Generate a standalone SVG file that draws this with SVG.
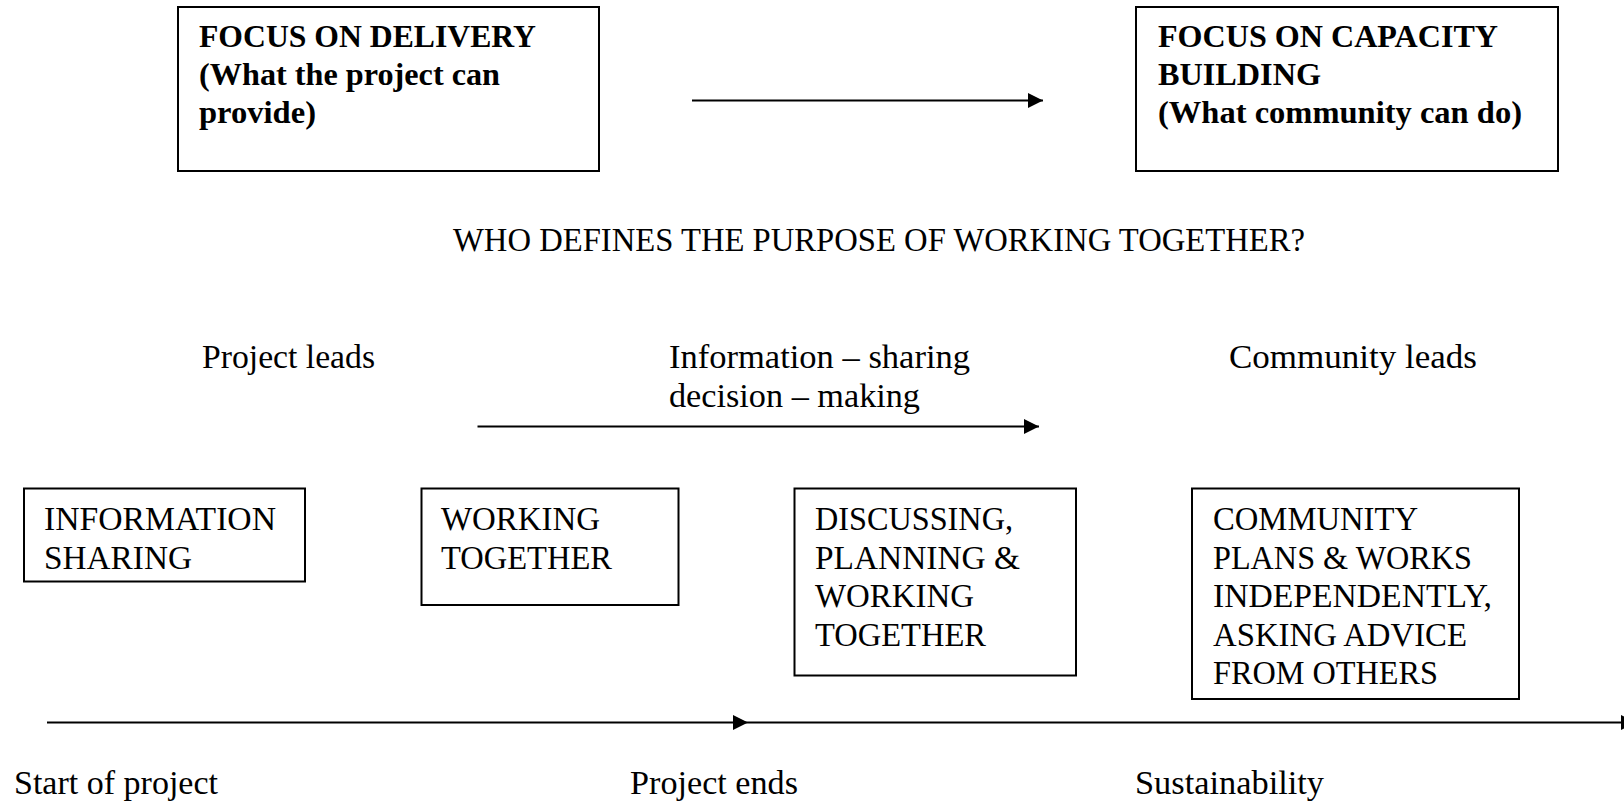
<svg xmlns="http://www.w3.org/2000/svg" width="1624" height="802" viewBox="0 0 1624 802">
<style>
  .box { fill: #fff; stroke: #000; stroke-width: 2; }
  .b { font-family: "Liberation Serif", "Times New Roman", serif; font-weight: bold; font-size: 32px; fill: #000; }
  .r { font-family: "Liberation Serif", "Times New Roman", serif; font-size: 33px; fill: #000; }
  .conn { stroke: #000; stroke-width: 2; fill: none; marker-end: url(#ah); }
</style>
<defs>
  <marker id="ah" markerWidth="15" markerHeight="15" refX="15" refY="7.5" orient="auto" markerUnits="userSpaceOnUse">
    <path d="M0,0 L15,7.5 L0,15 z" fill="#000"/>
  </marker>
</defs>
<rect width="1624" height="802" fill="#fff"/>

<g id="delivery">
  <rect class="box" x="178" y="7" width="421" height="164"/>
  <text class="b" x="199" y="47" textLength="337" lengthAdjust="spacingAndGlyphs">FOCUS ON DELIVERY</text>
  <text class="b" x="199" y="85" textLength="301" lengthAdjust="spacingAndGlyphs">(What the project can</text>
  <text class="b" x="199" y="123" textLength="117" lengthAdjust="spacingAndGlyphs">provide)</text>
</g>

<g id="capacity">
  <rect class="box" x="1136" y="7" width="422" height="164"/>
  <text class="b" x="1158" y="47" textLength="340" lengthAdjust="spacingAndGlyphs">FOCUS ON CAPACITY</text>
  <text class="b" x="1158" y="85" textLength="163" lengthAdjust="spacingAndGlyphs">BUILDING</text>
  <text class="b" x="1158" y="123" textLength="364" lengthAdjust="spacingAndGlyphs">(What community can do)</text>
</g>

<g id="title">
  <text class="r" x="453" y="251" textLength="852" lengthAdjust="spacingAndGlyphs">WHO DEFINES THE PURPOSE OF WORKING TOGETHER?</text>
</g>

<g id="project-leads">
  <text class="r" x="202" y="368" textLength="173" lengthAdjust="spacingAndGlyphs">Project leads</text>
</g>
<g id="info-decision">
  <text class="r" x="669" y="368" textLength="301" lengthAdjust="spacingAndGlyphs">Information – sharing</text>
  <text class="r" x="669" y="407" textLength="251" lengthAdjust="spacingAndGlyphs">decision – making</text>
</g>
<g id="community-leads">
  <text class="r" x="1229" y="368" textLength="248" lengthAdjust="spacingAndGlyphs">Community leads</text>
</g>

<g id="information-sharing">
  <rect class="box" x="24" y="488.5" width="281" height="93"/>
  <text class="r" x="44" y="530" textLength="232" lengthAdjust="spacingAndGlyphs">INFORMATION</text>
  <text class="r" x="44" y="568.5" textLength="148" lengthAdjust="spacingAndGlyphs">SHARING</text>
</g>

<g id="working-together">
  <rect class="box" x="421.5" y="488.5" width="257" height="116.5"/>
  <text class="r" x="441" y="530" textLength="159" lengthAdjust="spacingAndGlyphs">WORKING</text>
  <text class="r" x="441" y="568.5" textLength="171" lengthAdjust="spacingAndGlyphs">TOGETHER</text>
</g>

<g id="discussing">
  <rect class="box" x="794.5" y="488.5" width="281.5" height="187"/>
  <text class="r" x="815" y="530" textLength="198" lengthAdjust="spacingAndGlyphs">DISCUSSING,</text>
  <text class="r" x="815" y="568.5" textLength="205" lengthAdjust="spacingAndGlyphs">PLANNING &amp;</text>
  <text class="r" x="815" y="607" textLength="159" lengthAdjust="spacingAndGlyphs">WORKING</text>
  <text class="r" x="815" y="645.5" textLength="171" lengthAdjust="spacingAndGlyphs">TOGETHER</text>
</g>

<g id="community-plans">
  <rect class="box" x="1192" y="488.5" width="327" height="210.5"/>
  <text class="r" x="1213" y="530" textLength="205" lengthAdjust="spacingAndGlyphs">COMMUNITY</text>
  <text class="r" x="1213" y="568.5" textLength="259" lengthAdjust="spacingAndGlyphs">PLANS &amp; WORKS</text>
  <text class="r" x="1213" y="607" textLength="279" lengthAdjust="spacingAndGlyphs">INDEPENDENTLY,</text>
  <text class="r" x="1213" y="645.5" textLength="254" lengthAdjust="spacingAndGlyphs">ASKING ADVICE</text>
  <text class="r" x="1213" y="684" textLength="225" lengthAdjust="spacingAndGlyphs">FROM OTHERS</text>
</g>

<g id="timeline-labels">
  <text class="r" x="14" y="794" textLength="204" lengthAdjust="spacingAndGlyphs">Start of project</text>
  <text class="r" x="630" y="794" textLength="168" lengthAdjust="spacingAndGlyphs">Project ends</text>
  <text class="r" x="1135" y="794" textLength="189" lengthAdjust="spacingAndGlyphs">Sustainability</text>
</g>

<g id="connectors">
  <line class="conn" x1="692" y1="100.5" x2="1043" y2="100.5"/>
  <line class="conn" x1="477.5" y1="426.5" x2="1039" y2="426.5"/>
  <line class="conn" x1="47" y1="722.5" x2="748" y2="722.5"/>
  <line class="conn" x1="748" y1="722.5" x2="1636" y2="722.5"/>
</g>
</svg>
